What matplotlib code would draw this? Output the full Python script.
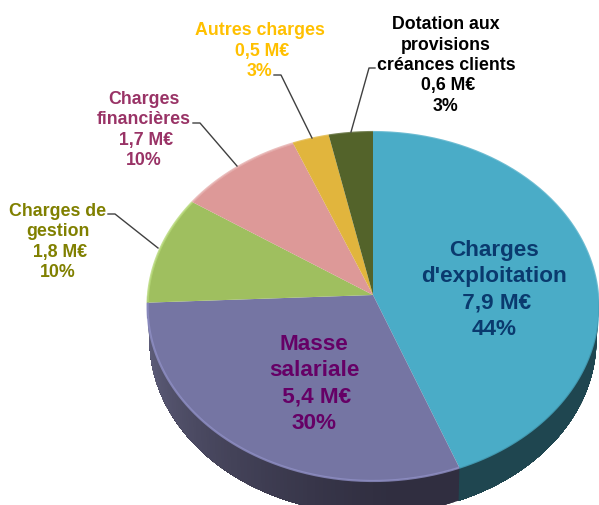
import numpy as np
import matplotlib
matplotlib.use("Agg")
import matplotlib.pyplot as plt
from matplotlib.colors import to_rgb

# --- data ---
names = ["Charges\nd'exploitation", "Masse\nsalariale", "Charges de\ngestion",
         "Charges\nfinancières", "Autres charges", "Dotation aux\nprovisions\ncréances clients"]
values = [7.9, 5.4, 1.8, 1.7, 0.5, 0.6]
value_labels = ["7,9 M€", "5,4 M€", "1,8 M€", "1,7 M€", "0,5 M€", "0,6 M€"]
percent_labels = ["44%", "30%", "10%", "10%", "3%", "3%"]

# --- styles ---
top_colors = ["#4AACC7", "#7575A3", "#9FBF5F", "#DD9998", "#E1B53D", "#53632A"]
edge_colors = ["#4AACC7", "#9090C6", "#B6D878", "#E6AFAE", "#E1B53D", "#53632A"]
text_colors = ["#0A3A6E", "#660066", "#808000", "#993366", "#FFC000", "#000000"]
font_sizes = [16.2, 16.2, 12.8, 12.8, 12.8, 12.8]
line_spacing = [1.33, 1.33, 1.26, 1.26, 1.26, 1.26]
text_pos = [(494, 290), (314, 384), (58, 242), (144, 130), (260, 51), (446, 65.5)]
leaders = [None, None,
           [(108, 215), (115, 215), (158, 249)],
           [(193, 124), (200, 124), (237, 167)],
           [(274, 76), (281, 76), (312, 139)],
           [(375, 69), (369, 69), (351, 133)]]

W, H = 599, 506
CX, CY = 373, 296
RX, RY, K = 225, 173.7, 0.066   # perspective ellipse
DEPTH, RX_BOTTOM = 33, 223


def top_edge(theta):
    t = np.radians(theta)
    s = 1 + K * np.cos(t)
    return CX + RX * np.sin(t) / s, CY - RY * np.cos(t) / s


def bottom_edge(theta):
    t = np.radians(theta)
    s = 1 + K * np.cos(t)
    return CX + RX_BOTTOM * np.sin(t) / s, CY + DEPTH - RY * np.cos(t) / s


def mix(a, b, f):
    a, b = np.array(to_rgb(a)), np.array(to_rgb(b))
    return tuple(a + (b - a) * f)


fig = plt.figure(figsize=(W / 100, H / 100), dpi=100, facecolor="white")
ax = fig.add_axes([0, 0, 1, 1])
ax.set_xlim(0, W)
ax.set_ylim(H, 0)
ax.axis("off")

edges = np.concatenate([[0], np.cumsum(values)]) / np.sum(values) * 360

# side wall (front half only); each strip overlaps the next so no seams appear
for i in range(len(values)):
    a0, a1 = max(edges[i], 90), min(edges[i + 1], 270)
    if a1 <= a0:
        continue
    starts = np.arange(a0, a1, 1.0)
    for t0 in starts:
        th = np.linspace(t0, a1, max(int((a1 - t0) * 2), 2))
        x0, y0 = top_edge(th)
        x1, y1 = bottom_edge(th[::-1])
        if i == 0:
            col = "#1F4650"
        else:
            col = mix("#302E40", "#62627F", np.clip((t0 - 175) / 90, 0, 1) ** 1.2)
        ax.fill(np.r_[x0, x1], np.r_[y0, y1], facecolor=col, edgecolor="none", zorder=1)

# top face
for i in range(len(values)):
    th = np.linspace(edges[i], edges[i + 1], 200)
    x, y = top_edge(th)
    ax.fill(np.r_[CX, x], np.r_[CY, y], facecolor=top_colors[i], edgecolor="none", zorder=2)
    ax.plot(x, y, color=edge_colors[i], lw=1.6, alpha=0.8, zorder=3, solid_capstyle="butt")

# leader lines
for pts in leaders:
    if pts:
        px, py = zip(*pts)
        ax.plot(px, py, color="#404040", lw=1.0, zorder=4)

# labels
for i in range(len(values)):
    txt = f"{names[i]}\n {value_labels[i]}\n{percent_labels[i]}"
    ax.text(text_pos[i][0], text_pos[i][1], txt, family="Liberation Sans", weight="bold",
            fontsize=font_sizes[i], color=text_colors[i], ha="center", va="center",
            linespacing=line_spacing[i], zorder=5)

fig.savefig("out.png", dpi=100, facecolor="white")
